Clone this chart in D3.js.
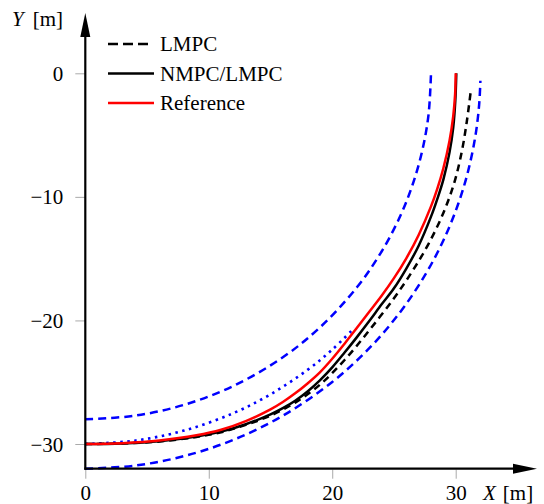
<!DOCTYPE html>
<html>
<head>
<meta charset="utf-8">
<script src="https://cdn.jsdelivr.net/npm/d3@7"></script>
<style>
  body { margin: 0; background: #fff; }
  svg text { font-family: "Liberation Serif", "DejaVu Serif", serif !important; font-size: 21px !important; fill: #000; }
</style>
</head>
<body>
<div class="chart"></div>
<script>
// curves, [X, Y] in metres
var referencePath = [[0, -30], [3, -29.93], [6, -29.72], [9, -29.3], [11, -28.85], [13, -28.15], [15, -27.2],
    [16, -26.6], [17, -25.9], [18, -25.1], [19, -24.2], [20, -23.1], [21, -21.88], [22, -20.6], [23, -19.3],
    [24, -18.0], [25, -16.58], [26, -14.97], [27, -13.08], [28, -10.77], [28.5, -9.37], [29, -7.68],
    [29.5, -5.45], [29.8, -3.46], [29.95, -1.73], [30, 0]];
var nmpcPath = [[0, -30], [3, -29.95], [6, -29.78], [9, -29.4], [11, -29.0], [13, -28.4], [15, -27.6],
    [16, -27.1], [17, -26.5], [18, -25.75], [19, -24.85], [20, -23.8], [21, -22.6], [22, -21.35], [23, -20.05],
    [24, -18.7], [25, -17.4], [26, -15.8], [27, -13.95], [28, -11.6], [28.5, -10.2], [29, -8.6],
    [29.5, -6.4], [29.8, -4.4], [29.97, -2.2], [30.05, 0]];
var lmpcPath = [[0, -30], [3, -29.96], [6, -29.8], [9, -29.43], [11, -29.05], [13, -28.45], [15, -27.7],
    [17, -26.65], [19, -25.2], [21, -23.2], [23, -20.8], [25, -18.2], [26.5, -16.0], [27.8, -13.8],
    [29, -11.3], [29.9, -8.8], [30.5, -6.3], [30.9, -3.9], [31.2, -1.6]];
var innerBound = [[0, -28], [4, -27.71], [8, -26.83], [12, -25.3], [16, -22.98], [19, -20.57], [22, -17.32],
    [24, -14.42], [25.5, -11.57], [26.5, -9.04], [27.3, -6.22], [27.8, -3.34], [28, 0]];
var outerBound = [[0, -32], [4, -31.75], [8, -30.98], [12, -29.66], [16, -27.71], [20, -24.98], [23, -22.25],
    [25.5, -19.33], [27.5, -16.36], [29, -13.53], [30.2, -10.58], [31, -7.94], [31.6, -5.04], [31.9, -2.53], [32, -0.6]];
var centerLine = [[0, -30], [4, -29.73], [8, -28.91], [12, -27.5], [15, -25.98], [18, -24], [20, -22.36], [21.8, -20.6]];

var xTicks = [0, 10, 20, 30];
var yTicks = [0, -10, -20, -30];
var legendNames = ["LMPC", "NMPC/LMPC", "Reference"];

var svgWidth = 544;
var svgHeight = 504;

var svg = d3.select(".chart")
    .append("svg")
    .attr("width", svgWidth)
    .attr("height", svgHeight);

var xScale = d3.scaleLinear().domain([0, 30]).range([85.3, 455.7]);
var yScale = d3.scaleLinear().domain([0, -30]).range([73.3, 444]);

var axisY = yScale(-32);
var axisX = xScale(0);

var line = d3.line()
    .x(function(d) { return xScale(d[0]); })
    .y(function(d) { return yScale(d[1]); })
    .curve(d3.curveCatmullRom.alpha(0.5));

// axes with grey ticks
var bottomAxis = d3.axisBottom(xScale).tickValues(xTicks).tickSize(10).tickFormat(d3.format("d"));
var leftAxis = d3.axisLeft(yScale).tickValues(yTicks).tickSize(10)
    .tickFormat(function(d) { return d < 0 ? "\u2212" + Math.abs(d) : d; });

var gx = svg.append("g")
    .attr("transform", "translate(0," + axisY + ")")
    .call(bottomAxis)
    .attr("font-family", null).attr("font-size", null);
gx.select(".domain").remove();
gx.selectAll(".tick line").attr("stroke", "#aaa").attr("y1", 1);
gx.selectAll(".tick text")
    .attr("y", 31).attr("dy", null);

var gy = svg.append("g")
    .attr("transform", "translate(" + axisX + ",0)")
    .call(leftAxis)
    .attr("font-family", null).attr("font-size", null);
gy.select(".domain").remove();
gy.selectAll(".tick line").attr("stroke", "#aaa");
gy.selectAll(".tick text")
    .attr("x", -22).attr("dy", 7);

// curves
svg.append("path").datum(outerBound).attr("d", line)
    .attr("fill", "none").attr("stroke", "#0000ff").attr("stroke-width", 2.5).attr("stroke-dasharray", "8,5");
svg.append("path").datum(innerBound).attr("d", line)
    .attr("fill", "none").attr("stroke", "#0000ff").attr("stroke-width", 2.5).attr("stroke-dasharray", "8,5");
svg.append("path").datum(centerLine).attr("d", line)
    .attr("fill", "none").attr("stroke", "#0000ff").attr("stroke-width", 2.6).attr("stroke-dasharray", "2.5,4.5");
svg.append("path").datum(nmpcPath).attr("d", line)
    .attr("fill", "none").attr("stroke", "#000").attr("stroke-width", 2.5);
svg.append("path").datum(lmpcPath).attr("d", line)
    .attr("fill", "none").attr("stroke", "#000").attr("stroke-width", 2.5).attr("stroke-dasharray", "7,5");
svg.append("path").datum(referencePath).attr("d", line)
    .attr("fill", "none").attr("stroke", "#ff0000").attr("stroke-width", 2.5);

// axis lines with arrows
svg.append("line")
    .attr("x1", axisX - 1).attr("y1", axisY).attr("x2", 516).attr("y2", axisY)
    .attr("stroke", "#000").attr("stroke-width", 2.2);
svg.append("path")
    .attr("d", "M537," + axisY + " L513," + (axisY - 5) + " L513," + (axisY + 5) + " Z")
    .attr("fill", "#000");
svg.append("line")
    .attr("x1", axisX).attr("y1", axisY + 1).attr("x2", axisX).attr("y2", 34)
    .attr("stroke", "#000").attr("stroke-width", 2.2);
svg.append("path")
    .attr("d", "M" + axisX + ",13 L" + (axisX - 5) + ",37 L" + (axisX + 5) + ",37 Z")
    .attr("fill", "#000");

// axis titles
var yTitle = svg.append("text").attr("x", 12).attr("y", 25.5);
yTitle.append("tspan").attr("font-style", "italic").text("Y");
yTitle.append("tspan").attr("dx", 9).text("[m]");

var xTitle = svg.append("text").attr("x", 483).attr("y", 500);
xTitle.append("tspan").attr("font-style", "italic").text("X");
xTitle.append("tspan").attr("dx", 7).text("[m]");

// legend
var legendStyles = [
    { color: "#000", dash: "10,5", end: 148 },
    { color: "#000", dash: null, end: 154 },
    { color: "#ff0000", dash: null, end: 154 }
];
var legendRows = [44, 73.5, 103];

var legend = svg.append("g").selectAll("g")
    .data(legendNames)
    .enter()
    .append("g")
    .attr("transform", function(d, i) { return "translate(0," + legendRows[i] + ")"; });

legend.append("line")
    .attr("x1", 108).attr("y1", 0).attr("y2", 0)
    .attr("x2", function(d, i) { return legendStyles[i].end; })
    .attr("stroke", function(d, i) { return legendStyles[i].color; })
    .attr("stroke-width", 2.5)
    .attr("stroke-dasharray", function(d, i) { return legendStyles[i].dash; });

legend.append("text")
    .attr("x", 160).attr("y", 7)
    .text(function(d) { return d; });
</script>
</body>
</html>
